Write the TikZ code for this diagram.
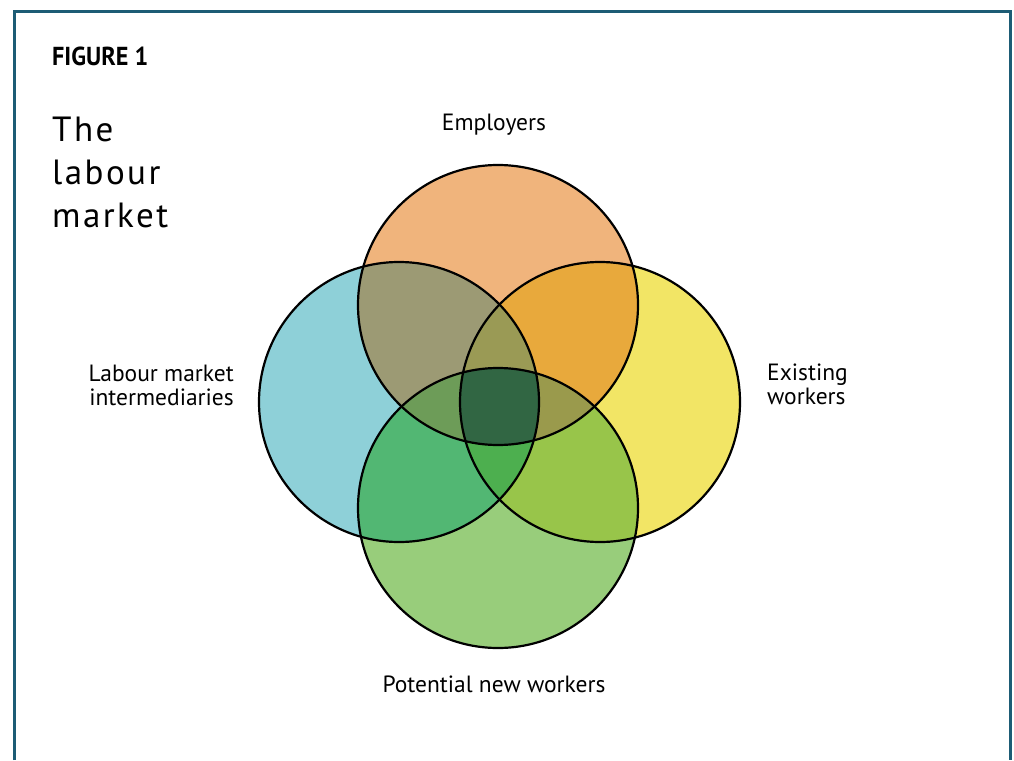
\documentclass[tikz,border=0pt]{standalone}
\usepackage{fontspec}
\setmainfont{PT Sans}
\newfontfamily\figfont[FakeStretch=0.93]{PT Sans Bold}
\newfontfamily\titlefont[LetterSpace=7]{PT Sans}
\definecolor{frameblue}{HTML}{1D5C75}
\definecolor{cO}{HTML}{F0B47C}
\definecolor{cB}{HTML}{8ED0D8}
\definecolor{cY}{HTML}{F2E565}
\definecolor{cG}{HTML}{98CD7B}
\definecolor{cOB}{HTML}{9C9A74}
\definecolor{cOY}{HTML}{E8A93C}
\definecolor{cBG}{HTML}{52B773}
\definecolor{cYG}{HTML}{98C54A}
\definecolor{cBY}{HTML}{7FAF70}
\definecolor{cOG}{HTML}{7FA060}
\definecolor{cOBY}{HTML}{9A9A55}
\definecolor{cOBG}{HTML}{6D9C58}
\definecolor{cOYG}{HTML}{9A9A4C}
\definecolor{cBYG}{HTML}{4DAF4F}
\definecolor{cALL}{HTML}{316643}
\tikzset{
  frameline/.style={draw=frameblue, line width=3pt},
  ring/.style={draw=black, line width=2.2pt},
  lbl/.style={inner sep=0pt, font=\fontsize{23.5}{24}\selectfont},
}
\begin{document}
\begin{tikzpicture}[x=1pt,y=-1pt]
\useasboundingbox (0,0) rectangle (1014,760);
\fill[white] (0,0) rectangle (1014,760);
\def\cirO{(498,305) circle[radius=140]}
\def\cirB{(399,402) circle[radius=140]}
\def\cirY{(600,402) circle[radius=140]}
\def\cirG{(498,508) circle[radius=140]}
% single regions
\fill[cO] \cirO;
\fill[cB] \cirB;
\fill[cY] \cirY;
\fill[cG] \cirG;
% pairs
\begin{scope}\clip \cirO; \fill[cOB] \cirB; \end{scope}
\begin{scope}\clip \cirO; \fill[cOY] \cirY; \end{scope}
\begin{scope}\clip \cirO; \fill[cOG] \cirG; \end{scope}
\begin{scope}\clip \cirB; \fill[cBY] \cirY; \end{scope}
\begin{scope}\clip \cirB; \fill[cBG] \cirG; \end{scope}
\begin{scope}\clip \cirY; \fill[cYG] \cirG; \end{scope}
% triples
\begin{scope}\clip \cirO; \clip \cirB; \fill[cOBY] \cirY; \end{scope}
\begin{scope}\clip \cirO; \clip \cirB; \fill[cOBG] \cirG; \end{scope}
\begin{scope}\clip \cirO; \clip \cirY; \fill[cOYG] \cirG; \end{scope}
\begin{scope}\clip \cirB; \clip \cirY; \fill[cBYG] \cirG; \end{scope}
% all four
\begin{scope}\clip \cirO; \clip \cirB; \clip \cirY; \fill[cALL] \cirG; \end{scope}
% outlines
\draw[ring] \cirO;
\draw[ring] \cirB;
\draw[ring] \cirY;
\draw[ring] \cirG;
% frame
\draw[frameline] (14,760) -- (14,12) -- (1010,12) -- (1010,760);
% texts (multi-line nodes: base = baseline of last line)
\node[inner sep=0pt, anchor=base west, font=\figfont\fontsize{26}{28}\selectfont] (fig) at (52,66) {FIGURE 1};
\node[inner sep=0pt, anchor=base west, align=left, font=\titlefont\fontsize{35}{43}\selectfont] (title) at (52,227) {The\\labour\\market};
\node[lbl, anchor=base] (emp) at (494,130) {Employers};
\node[lbl, anchor=base east, align=right] (lmi) at (234,405) {Labour market\\intermediaries};
\node[lbl, anchor=base west, align=left] (exw) at (767,404) {Existing\\workers};
\node[lbl, anchor=base] (pnw) at (494,692) {Potential new workers};
\end{tikzpicture}
\end{document}
